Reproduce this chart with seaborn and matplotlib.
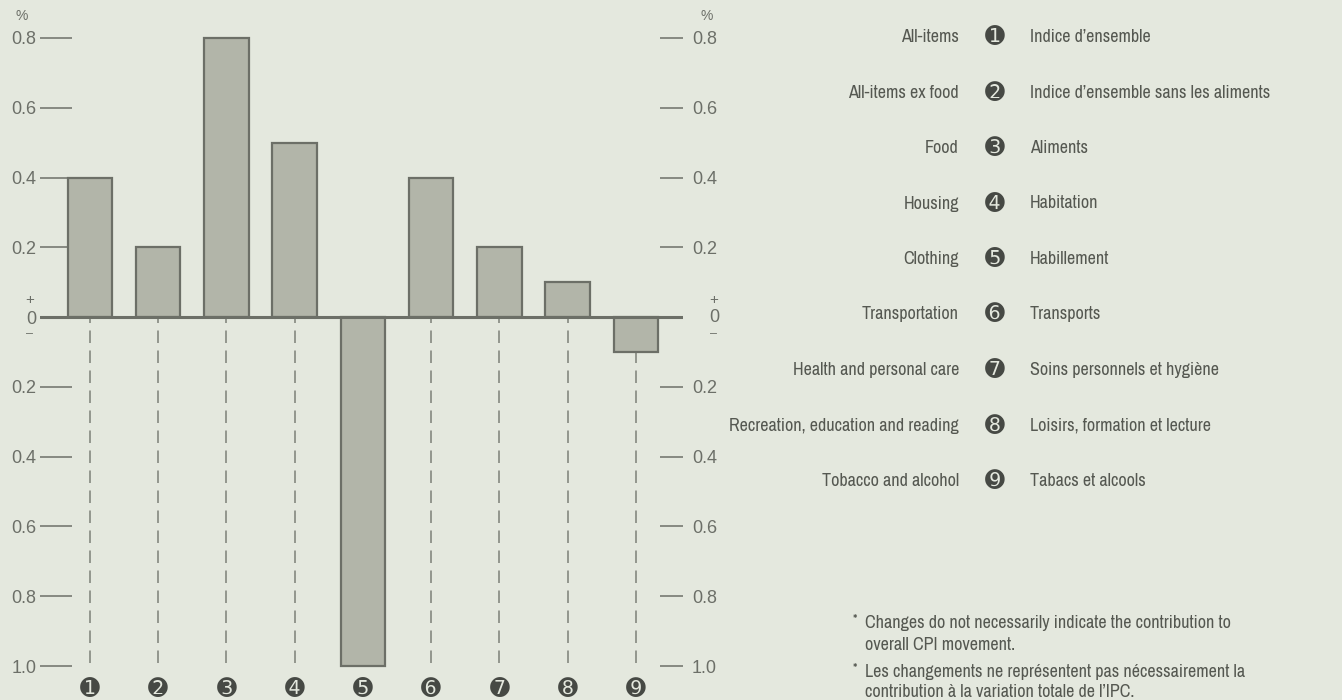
import matplotlib
matplotlib.use("Agg")
import matplotlib.pyplot as plt
from matplotlib import font_manager as fm
import seaborn as sns
import numpy as np
import pandas as pd

# ---------------- data ----------------
markers = ["➊", "➋", "➌", "➍", "➎", "➏", "➐", "➑", "➒"]
values = [0.4, 0.2, 0.8, 0.5, -1.0, 0.4, 0.2, 0.1, -0.1]
english = ["All-items", "All-items ex food", "Food", "Housing", "Clothing",
           "Transportation", "Health and personal care",
           "Recreation, education and reading", "Tobacco and alcohol"]
french = ["Indice d’ensemble", "Indice d’ensemble sans les aliments", "Aliments",
          "Habitation", "Habillement", "Transports", "Soins personnels et hygiène",
          "Loisirs, formation et lecture", "Tabacs et alcools"]
yticks = [0.8, 0.6, 0.4, 0.2, 0.0, -0.2, -0.4, -0.6, -0.8, -1.0]
ytick_labels = ["0.8", "0.6", "0.4", "0.2", "0", "0.2", "0.4", "0.6", "0.8", "1.0"]
notes = [
    ("*", "Changes do not necessarily indicate the contribution to"),
    ("", "overall CPI movement."),
    ("*", "Les changements ne représentent pas nécessairement la"),
    ("", "contribution à la variation totale de l’IPC."),
]

# ---------------- style ----------------
BG = "#e4e8de"
BAR = "#b2b5a9"
EDGE = "#6c6f67"
TEXT = "#6c6f68"
DARK = "#555851"
NUM = "#464944"

sns.set_theme(style="white")
plt.rcParams["font.family"] = ["Liberation Sans", "DejaVu Sans"]

# pick a condensed face for the legend text if one is installed
names = sorted({f.name for f in fm.fontManager.ttflist})
narrow = None
for pref in ["Liberation Sans Narrow", "DejaVu Sans Condensed"]:
    if pref in names:
        narrow = pref
        break
if narrow is None:
    narrow = next((n for n in names if "Narrow" in n or "Condensed" in n), None)
if narrow is not None:
    NARROW = [narrow, "DejaVu Sans"]
    LEG_FS, NOTE_FS = 13, 13
else:
    NARROW = ["Liberation Sans", "DejaVu Sans"]
    LEG_FS, NOTE_FS = 11.3, 11

W, H = 1342, 700
fig = plt.figure(figsize=(W / 100, H / 100), dpi=100, facecolor=BG)

def fx(px):
    return px / W

def fy(py):
    return 1 - py / H

ax_left, ax_right, ax_top, ax_bot = 40, 683, 31, 673
ax = fig.add_axes([fx(ax_left), fy(ax_bot), fx(ax_right - ax_left), (ax_bot - ax_top) / H])
ax.set_facecolor("none")

df = pd.DataFrame({"item": markers, "value": values})
sns.barplot(data=df, x="item", y="value", order=markers, color=BAR, saturation=1,
            edgecolor=EDGE, linewidth=1.6, width=0.65, ax=ax, zorder=3)

pos = np.arange(len(values))
vals = np.array(values)
ylo = yticks[-1]
mask = vals > ylo
ax.vlines(pos[mask], ylo + 0.01, np.minimum(vals[mask], 0), colors="#858880",
          linestyles=(0, (7.5, 4.5)), linewidth=1.2, zorder=1)
ax.axhline(0, color=EDGE, lw=2.2, zorder=4)

ax.set_xlim(-0.73, 8.69)
ax.set_ylim(-1.02, 0.82)
for s in ax.spines.values():
    s.set_visible(False)
ax.set_xlabel("")
ax.set_ylabel("")
ax.set_yticks(yticks)
ax.set_yticklabels(ytick_labels)
ax.tick_params(axis="y", direction="in", length=23, width=1.1, color=TEXT,
               labelcolor=TEXT, labelsize=13, pad=2.5)
ax.tick_params(axis="x", length=0, pad=3, labelcolor=NUM, labelsize=17)
for t in ax.get_xticklabels():
    t.set_fontfamily("DejaVu Sans")

ax2 = ax.twinx()
ax2.set_ylim(ax.get_ylim())
ax2.set_yticks(yticks)
ax2.set_yticklabels([l if v != 0 else "" for v, l in zip(yticks, ytick_labels)])
ax2.tick_params(axis="y", direction="in", length=16.5, width=1.1, color=TEXT,
                labelcolor=TEXT, labelsize=13, pad=6.5)
for s in ax2.spines.values():
    s.set_visible(False)
ax2.grid(False)
ax.grid(False)

# + / - around zero, and % units
for xpx in (30, 714):
    fig.text(fx(xpx), fy(300), "+", ha="center", va="center", color=TEXT, fontsize=11)
    fig.text(fx(xpx), fy(334), "–", ha="center", va="center", color=TEXT, fontsize=9)
fig.text(fx(714), fy(318), "0", ha="center", va="center", color=TEXT, fontsize=13)
fig.text(fx(22), fy(16), "%", ha="center", va="center", color=TEXT, fontsize=10)
fig.text(fx(707), fy(16), "%", ha="center", va="center", color=TEXT, fontsize=10)

# ---------------- legend ----------------
row0, step = 37, 55.5
for i, (en, m, fr) in enumerate(zip(english, markers, french)):
    y = fy(row0 + i * step)
    fig.text(fx(959), y, en, ha="right", va="center", color=DARK, fontsize=LEG_FS, family=NARROW)
    fig.text(fx(995), y, m, ha="center", va="center", color=NUM, fontsize=17, family="DejaVu Sans")
    fig.text(fx(1030), y, fr, ha="left", va="center", color=DARK, fontsize=LEG_FS, family=NARROW)

# ---------------- notes ----------------
note_y = [623, 645, 672, 692]
for (star, txt), ypx in zip(notes, note_y):
    if star:
        fig.text(fx(855), fy(ypx - 3), star, ha="center", va="center", color=DARK,
                 fontsize=10, family=NARROW)
    fig.text(fx(865), fy(ypx), txt, ha="left", va="center", color=DARK,
             fontsize=NOTE_FS, family=NARROW)

fig.savefig("out.png", dpi=100, facecolor=BG)
